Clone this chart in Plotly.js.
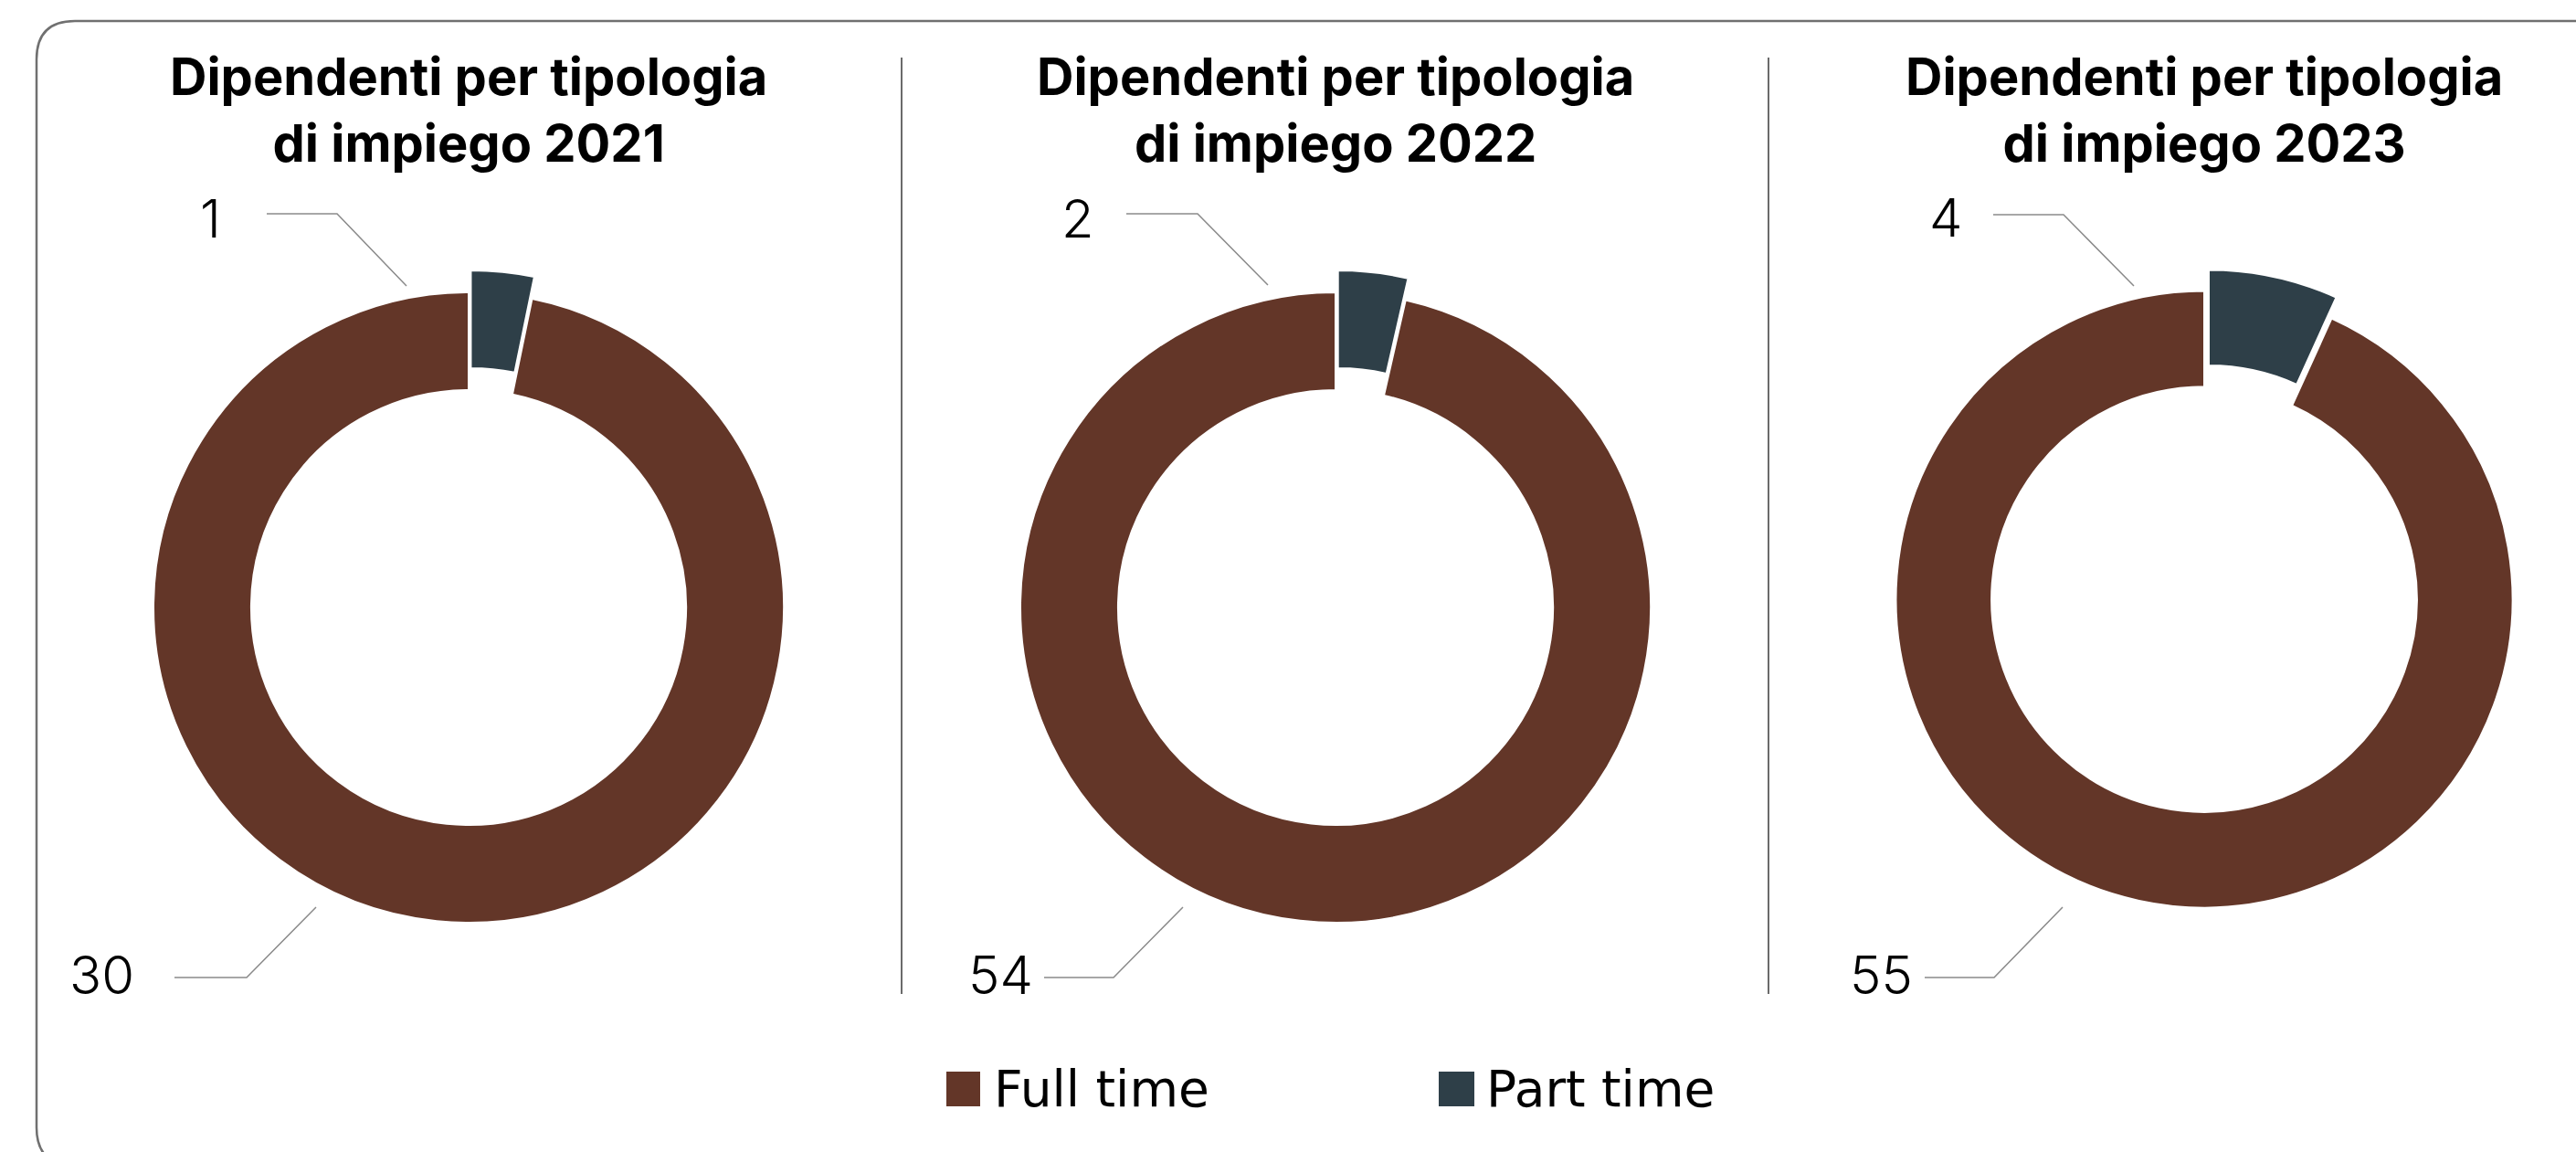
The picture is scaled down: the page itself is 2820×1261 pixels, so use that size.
<!DOCTYPE html>
<html><head><meta charset="utf-8">
<script src="https://cdn.plot.ly/plotly-3.0.1.min.js"></script>
<style>html,body{margin:0;padding:0;background:#fff;overflow:hidden;} #chart{width:2820px;height:1261px;}</style>
</head><body><div id="chart"></div>
<script>
// ---- data ----
const years = ['2021', '2022', '2023'];
const categories = ['Full time', 'Part time'];
const fullTime = [30, 54, 55];
const partTime = [1, 2, 4];
const titleLine1 = 'Dipendenti per tipologia';
const titleLine2Prefix = 'di impiego';

// ---- styles / layout geometry (pixels) ----
const colors = ['#633628', '#2E3F48'];
const W = 2820, H = 1261;
const px = x => x / W;
const py = y => 1 - y / H;
const PULL = 0.07, HOLE = 0.69;
const pieGeom = [
  {cx: 513,  cy: 665, r: 345},
  {cx: 1462, cy: 665, r: 345},
  {cx: 2413, cy: 656, r: 337.5}
];
// label anchors: [full-time label, part-time label] per chart
const labelGeom = [
  [{x: 111,  y: 1067, pts: [[191, 1070], [270, 1070], [346, 993]]},
   {x: 230,  y: 239,  pts: [[292, 234], [369, 234], [445, 313]]}],
  [{x: 1095, y: 1067, pts: [[1143, 1070], [1219, 1070], [1295, 993]]},
   {x: 1180, y: 239,  pts: [[1233, 234], [1311, 234], [1388, 312]]}],
  [{x: 2059, y: 1067, pts: [[2107, 1070], [2183, 1070], [2258, 993]]},
   {x: 2130, y: 238,  pts: [[2182, 235], [2259, 235], [2336, 313]]}]
];
const titleCenterY = 121;
const separatorsX = [987, 1936];
const legendGeom = [
  {sq: [1036, 1073], tx: 1086},
  {sq: [1575, 1614], tx: 1625}
];
const legendY = [1173, 1211];

const titleFont = {family: 'Inter, sans-serif', size: 56, color: '#000', weight: 700};
const labelFont = {family: 'Inter, sans-serif', size: 58, color: '#000', weight: 300};
const legendFont = {family: 'DejaVu Sans, sans-serif', size: 55, color: '#000'};

const traces = [];
const annotations = [];
const shapes = [];

years.forEach((yr, i) => {
  const g = pieGeom[i];
  const half = g.r * (1 + PULL);
  const vals = [fullTime[i], partTime[i]];
  // part time drawn first so that it sits just clockwise of 12 o'clock
  traces.push({
    type: 'pie',
    labels: [categories[1], categories[0]],
    values: [partTime[i], fullTime[i]],
    sort: false,
    direction: 'clockwise',
    rotation: 0,
    hole: HOLE,
    pull: [PULL, 0],
    textinfo: 'none',
    hoverinfo: 'label+value',
    showlegend: false,
    marker: {colors: [colors[1], colors[0]], line: {color: '#ffffff', width: 2}},
    domain: {x: [px(g.cx - half), px(g.cx + half)], y: [py(g.cy + half), py(g.cy - half)]}
  });
  // two-line title
  annotations.push({xref: 'paper', yref: 'paper', x: px(g.cx), y: py(titleCenterY), xanchor: 'center', yanchor: 'middle',
    align: 'center', text: '<b>' + titleLine1 + '<br>' + titleLine2Prefix + ' ' + yr + '</b>', showarrow: false, font: titleFont});
  // value labels with leader lines
  vals.forEach((v, k) => {
    const L = labelGeom[i][k];
    annotations.push({xref: 'paper', yref: 'paper', x: px(L.x), y: py(L.y), xanchor: 'center', yanchor: 'middle',
      text: String(v), showarrow: false, font: labelFont});
    const p = L.pts;
    shapes.push({type: 'path', xref: 'paper', yref: 'paper',
      path: 'M' + px(p[0][0]) + ',' + py(p[0][1]) + ' L' + px(p[1][0]) + ',' + py(p[1][1]) + ' L' + px(p[2][0]) + ',' + py(p[2][1]),
      line: {color: '#8a8a8a', width: 1.5}});
  });
});

// separators
separatorsX.forEach(x => {
  shapes.push({type: 'line', xref: 'paper', yref: 'paper', x0: px(x), x1: px(x), y0: py(63), y1: py(1088),
    line: {color: '#3a3a3a', width: 1.5}});
});

// outer rounded frame
const R = 42, fx = 40, ft = 23, fb = 1276;
shapes.push({type: 'path', xref: 'paper', yref: 'paper',
  path: 'M' + px(2840) + ',' + py(ft) + ' L' + px(fx + R) + ',' + py(ft) +
        ' Q' + px(fx) + ',' + py(ft) + ' ' + px(fx) + ',' + py(ft + R) +
        ' L' + px(fx) + ',' + py(fb - R) +
        ' Q' + px(fx) + ',' + py(fb) + ' ' + px(fx + R) + ',' + py(fb) +
        ' L' + px(2840) + ',' + py(fb),
  line: {color: '#707070', width: 2.5}});

// legend
categories.forEach((c, k) => {
  const lg = legendGeom[k];
  shapes.push({type: 'rect', xref: 'paper', yref: 'paper', x0: px(lg.sq[0]), x1: px(lg.sq[1]),
    y0: py(legendY[1]), y1: py(legendY[0]), fillcolor: colors[k], line: {width: 0}});
  annotations.push({xref: 'paper', yref: 'paper', x: px(lg.tx), y: py((legendY[0] + legendY[1]) / 2),
    xanchor: 'left', yanchor: 'middle', text: c, showarrow: false, font: legendFont});
});

Plotly.newPlot('chart', traces, {
  width: W, height: H, autosize: false,
  margin: {l: 0, r: 0, t: 0, b: 0, pad: 0},
  paper_bgcolor: '#ffffff', plot_bgcolor: '#ffffff',
  showlegend: false,
  annotations: annotations,
  shapes: shapes
}, {displayModeBar: false, staticPlot: true});
</script>
</body></html>
